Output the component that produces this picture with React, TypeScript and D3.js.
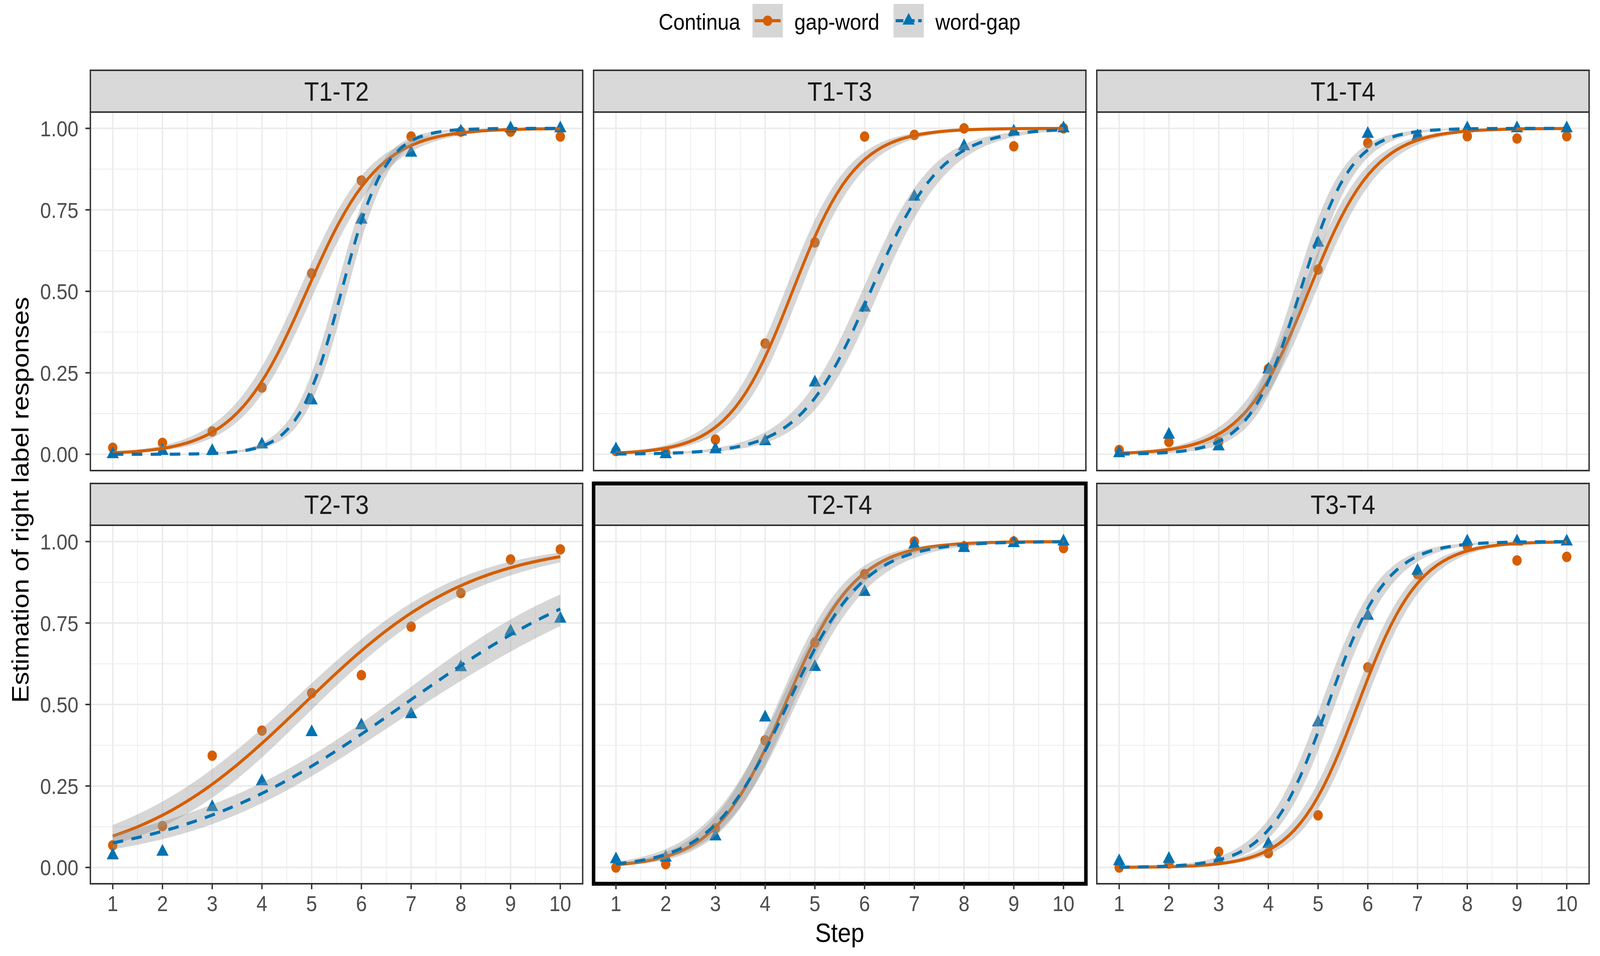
import React, { useRef, useEffect } from 'react';
import * as d3 from 'd3';

// facets and groups
const contrasts = ['T1-T2', 'T1-T3', 'T1-T4', 'T2-T3', 'T2-T4', 'T3-T4'];
const highlighted = 'T2-T4';
const continua = ['gap-word', 'word-gap'];
const steps = [1, 2, 3, 4, 5, 6, 7, 8, 9, 10];
const yTicks = [0, 0.25, 0.5, 0.75, 1];

// observed proportion of right label responses, one row per contrast
const gapWord = [
  [0.02, 0.035, 0.07, 0.205, 0.555, 0.84, 0.975, 0.99, 0.99, 0.975],
  [0.01, 0.005, 0.045, 0.34, 0.65, 0.975, 0.98, 1.0, 0.945, 1.0],
  [0.013, 0.038, 0.038, 0.262, 0.567, 0.955, 0.975, 0.976, 0.969, 0.976],
  [0.068, 0.127, 0.343, 0.42, 0.535, 0.59, 0.739, 0.842, 0.945, 0.976],
  [0.0, 0.01, 0.12, 0.39, 0.69, 0.9, 1.0, 0.985, 1.0, 0.98],
  [0.0, 0.012, 0.048, 0.044, 0.16, 0.614, 0.9, 0.985, 0.942, 0.953],
];
const wordGap = [
  [0.0, 0.01, 0.01, 0.03, 0.165, 0.72, 0.925, 0.99, 1.0, 1.0],
  [0.015, 0.0, 0.015, 0.04, 0.22, 0.45, 0.79, 0.945, 0.99, 1.0],
  [0.003, 0.06, 0.024, 0.26, 0.649, 0.983, 0.976, 1.0, 1.0, 1.0],
  [0.037, 0.048, 0.185, 0.264, 0.415, 0.436, 0.47, 0.614, 0.724, 0.763],
  [0.025, 0.03, 0.095, 0.46, 0.615, 0.845, 0.99, 0.98, 0.995, 1.0],
  [0.019, 0.026, 0.023, 0.072, 0.445, 0.772, 0.91, 1.0, 1.0, 1.0],
];

// logistic fits: [midpoint, slope, se at centre, se growth, se centre] (link scale)
const gapWordFit = [
  [4.9, 1.38, 0.22, 0.12, 4.9],
  [4.55, 1.55, 0.24, 0.13, 4.55],
  [4.81, 1.5, 0.22, 0.12, 4.8],
  [4.83, 0.585, 0.16, 0.067, 5.5],
  [4.4, 1.4, 0.22, 0.12, 4.4],
  [5.8, 1.6, 0.22, 0.12, 5.8],
];
const wordGapFit = [
  [5.6, 2.3, 0.26, 0.15, 5.6],
  [6.12, 1.4, 0.24, 0.12, 6.1],
  [4.64, 1.95, 0.26, 0.15, 4.6],
  [6.86, 0.428, 0.14, 0.062, 5.8],
  [4.45, 1.3, 0.22, 0.12, 4.45],
  [5.2, 1.7, 0.24, 0.13, 5.2],
];

const colors = ['#D55E00', '#0072B2'];
const dashes = [null, '30,24'];
const font = '"Liberation Sans", Arial, sans-serif';

const App = () => {
  const svgRef = useRef(null);

  useEffect(() => {
    document.body.style.margin = '0';
    document.body.style.overflow = 'hidden';
    const width = 4550;
    const height = 2448;
    const panelW = 1400;
    const panelH = 918;
    const stripH = 107;
    const colX = [257, 1688, 3119];
    const rowY = [180, 1238];

    // fill the window whatever its css size is
    const svg = d3.select(svgRef.current)
      .attr('viewBox', `0 0 ${width} ${height}`)
      .attr('preserveAspectRatio', 'none')
      .style('width', '100vw')
      .style('height', '100vh')
      .style('display', 'block')
      .style('background', '#fff');
    svg.selectAll('*').remove();

    const x = d3.scaleLinear().domain([0.55, 10.45]).range([0, panelW]);
    const y = d3.scaleLinear().domain([-0.05, 1.05]).range([panelH, 0]);
    const fmt = d3.format('.2f');
    const logistic = (t) => 1 / (1 + Math.exp(-t));
    const xs = d3.range(80).map(i => 1 + (9 * i) / 79);

    const circle = d3.symbol().type(d3.symbolCircle).size(560)();
    const triangle = d3.symbol().type(d3.symbolTriangle).size(520)();
    const shapes = [circle, triangle];

    svg.append('defs').append('clipPath')
      .attr('id', 'panel-clip')
      .append('rect')
      .attr('width', panelW)
      .attr('height', panelH);

    const line = d3.line().x(d => x(d[0])).y(d => y(d[1]));
    const area = d3.area().x(d => x(d[0])).y0(d => y(d[1])).y1(d => y(d[2]));

    contrasts.forEach((name, i) => {
      const col = i % 3;
      const row = Math.floor(i / 3);
      const g = svg.append('g')
        .attr('transform', `translate(${colX[col]},${rowY[row] + stripH})`);

      // strip
      g.append('rect')
        .attr('y', -stripH)
        .attr('width', panelW)
        .attr('height', stripH)
        .attr('fill', '#D9D9D9')
        .attr('stroke', '#333333')
        .attr('stroke-width', 4);
      g.append('text')
        .attr('x', panelW / 2)
        .attr('y', -stripH / 2)
        .attr('dy', '0.36em')
        .attr('text-anchor', 'middle')
        .style('font-family', font)
        .style('font-size', '69px')
        .attr('fill', '#1A1A1A')
        .text(name);

      g.append('rect').attr('width', panelW).attr('height', panelH).attr('fill', '#fff');

      // grid
      const minorX = d3.range(1.5, 10, 1);
      const minorY = [0.125, 0.375, 0.625, 0.875];
      g.selectAll('.mx').data(minorX).enter().append('line')
        .attr('x1', d => x(d)).attr('x2', d => x(d)).attr('y1', 0).attr('y2', panelH)
        .attr('stroke', '#EBEBEB').attr('stroke-width', 2);
      g.selectAll('.my').data(minorY).enter().append('line')
        .attr('y1', d => y(d)).attr('y2', d => y(d)).attr('x1', 0).attr('x2', panelW)
        .attr('stroke', '#EBEBEB').attr('stroke-width', 2);
      g.selectAll('.gx').data(steps).enter().append('line')
        .attr('x1', d => x(d)).attr('x2', d => x(d)).attr('y1', 0).attr('y2', panelH)
        .attr('stroke', '#EBEBEB').attr('stroke-width', 4);
      g.selectAll('.gy').data(yTicks).enter().append('line')
        .attr('y1', d => y(d)).attr('y2', d => y(d)).attr('x1', 0).attr('x2', panelW)
        .attr('stroke', '#EBEBEB').attr('stroke-width', 4);

      const plot = g.append('g').attr('clip-path', 'url(#panel-clip)');
      const obs = [gapWord[i], wordGap[i]];
      const fits = [gapWordFit[i], wordGapFit[i]];

      // points first (smooth layer drawn over them)
      obs.forEach((vals, k) => {
        plot.selectAll(`.pt${k}`).data(vals).enter().append('path')
          .attr('d', shapes[k])
          .attr('transform', (d, j) => `translate(${x(steps[j])},${y(d)})`)
          .attr('fill', colors[k]);
      });

      fits.forEach((f, k) => {
        const [mid, slope, se0, se1, c] = f;
        const pts = xs.map(s => {
          const eta = slope * (s - mid);
          const hw = Math.sqrt(se0 * se0 + (se1 * (s - c)) ** 2);
          return [s, logistic(eta), logistic(eta - hw), logistic(eta + hw)];
        });
        plot.append('path')
          .attr('d', area(pts.map(p => [p[0], p[2], p[3]])))
          .attr('fill', '#999999')
          .attr('fill-opacity', 0.4);
        plot.append('path')
          .attr('d', line(pts))
          .attr('fill', 'none')
          .attr('stroke', colors[k])
          .attr('stroke-width', 8)
          .attr('stroke-dasharray', dashes[k]);
      });

      g.append('rect')
        .attr('width', panelW).attr('height', panelH)
        .attr('fill', 'none').attr('stroke', '#333333').attr('stroke-width', 4);

      if (name === highlighted) {
        g.append('rect')
          .attr('x', 0).attr('y', -stripH)
          .attr('width', panelW).attr('height', panelH + stripH)
          .attr('fill', 'none').attr('stroke', '#000').attr('stroke-width', 10);
      }

      // y axis on first column
      if (col === 0) {
        g.selectAll('.yt').data(yTicks).enter().append('line')
          .attr('x1', -14).attr('x2', 0).attr('y1', d => y(d)).attr('y2', d => y(d))
          .attr('stroke', '#333333').attr('stroke-width', 4);
        g.selectAll('.yl').data(yTicks).enter().append('text')
          .attr('x', -34).attr('y', d => y(d)).attr('dy', '0.36em')
          .attr('text-anchor', 'end')
          .style('font-family', font).style('font-size', '56px')
          .attr('fill', '#4D4D4D')
          .text(d => fmt(d));
      }
      // x axis on bottom row
      if (row === 1) {
        g.selectAll('.xt').data(steps).enter().append('line')
          .attr('x1', d => x(d)).attr('x2', d => x(d)).attr('y1', panelH).attr('y2', panelH + 14)
          .attr('stroke', '#333333').attr('stroke-width', 4);
        g.selectAll('.xl').data(steps).enter().append('text')
          .attr('x', d => x(d)).attr('y', panelH + 70)
          .attr('text-anchor', 'middle')
          .style('font-family', font).style('font-size', '56px')
          .attr('fill', '#4D4D4D')
          .text(d => d);
      }
    });

    // axis titles
    svg.append('text')
      .attr('x', colX[1] + panelW / 2).attr('y', 2412)
      .attr('text-anchor', 'middle')
      .style('font-family', font).style('font-size', '68px')
      .text('Step');
    svg.append('text')
      .attr('transform', 'translate(81,1280) rotate(-90)')
      .attr('text-anchor', 'middle')
      .style('font-family', font).style('font-size', '68px')
      .text('Estimation of right label responses');

    // legend
    const legend = svg.append('g');
    legend.append('text')
      .attr('x', 1873).attr('y', 76)
      .style('font-family', font).style('font-size', '58px')
      .text('Continua');
    const keyX = [2140, 2541];
    continua.forEach((label, k) => {
      const kg = legend.append('g').attr('transform', `translate(${keyX[k]},10)`);
      kg.append('rect').attr('width', 86).attr('height', 86).attr('fill', '#D6D6D6');
      kg.append('line')
        .attr('x1', 6).attr('x2', 80).attr('y1', 43).attr('y2', 43)
        .attr('stroke', colors[k]).attr('stroke-width', 8)
        .attr('stroke-dasharray', k === 1 ? '22,10' : null);
      kg.append('path')
        .attr('d', shapes[k])
        .attr('transform', 'translate(43,43)')
        .attr('fill', colors[k]);
      legend.append('text')
        .attr('x', keyX[k] + 119).attr('y', 76)
        .style('font-family', font).style('font-size', '58px')
        .text(label);
    });
  }, []);

  return <svg ref={svgRef}></svg>;
};

export default App;
